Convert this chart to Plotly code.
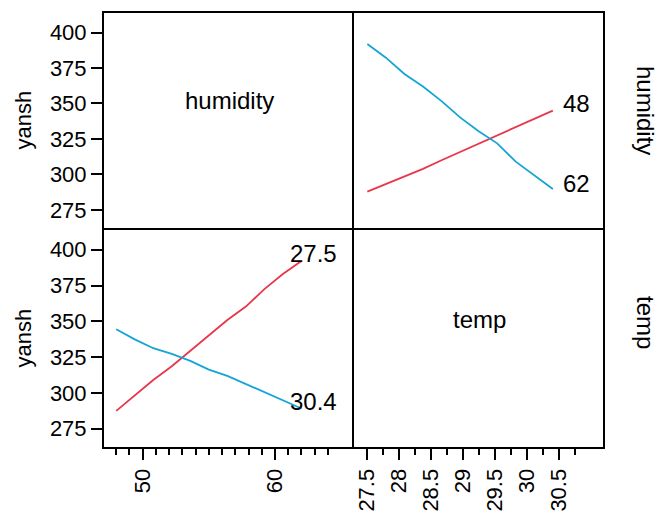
import plotly.graph_objects as go

# ---- data ----
temp_levels = [27.5, 27.79, 28.08, 28.37, 28.66, 28.95, 29.24, 29.53, 29.82, 30.11, 30.4]
hum_levels = [48, 49.4, 50.8, 52.2, 53.6, 55, 56.4, 57.8, 59.2, 60.6, 62]

# yansh vs temp, by humidity level
yansh_hum48 = [287.8, 293.2, 298.6, 303.9, 310.0, 315.9, 321.8, 327.7, 333.4, 339.2, 345.0]
yansh_hum62 = [392.0, 382.3, 370.8, 362.0, 351.7, 340.2, 330.5, 321.9, 309.0, 299.3, 289.7]

# yansh vs humidity, by temp level
yansh_t275 = [287.4, 298.2, 309.0, 318.6, 329.4, 340.1, 350.9, 360.3, 372.5, 383.1, 392.2]
yansh_t304 = [344.5, 337.4, 331.2, 327.3, 322.4, 316.3, 311.9, 306.2, 300.5, 294.6, 289.1]

y_ticks = [275, 300, 325, 350, 375, 400]
hum_major = [50, 60]
hum_minor = list(range(48, 65))
temp_major = [27.5, 28, 28.5, 29, 29.5, 30, 30.5]
temp_minor = [27.5 + 0.25 * i for i in range(14)]

RED = "#E8364B"
BLUE = "#14A5D6"
FONT = "Liberation Sans, Arial, sans-serif"
TICKFS = 22
LBLFS = 24
TW = 1.6

W, H = 659, 513
SX0, SX1, SXM = 103, 604, 353
SY0, SY1, SYM = 12, 448, 229
L, T = SX0, SY0
R, B = W - SX1, H - SY1
pw, ph = W - L - R, H - T - B
xsplit = (SXM - SX0) / (SX1 - SX0)
ysplit = (SY1 - SYM) / (SY1 - SY0)

YR = [261.5, 414.5]
HR = [47.0, 65.9]
TR = [27.276, 31.2]

fig = go.Figure()

fig.add_trace(go.Scatter(x=temp_levels, y=yansh_hum48, mode="lines",
                         line=dict(color=RED, width=1.8), xaxis="x4", yaxis="y4", showlegend=False))
fig.add_trace(go.Scatter(x=temp_levels, y=yansh_hum62, mode="lines",
                         line=dict(color=BLUE, width=1.8), xaxis="x4", yaxis="y4", showlegend=False))
fig.add_trace(go.Scatter(x=hum_levels, y=yansh_t275, mode="lines",
                         line=dict(color=RED, width=1.8), xaxis="x", yaxis="y", showlegend=False))
fig.add_trace(go.Scatter(x=hum_levels, y=yansh_t304, mode="lines",
                         line=dict(color=BLUE, width=1.8), xaxis="x", yaxis="y", showlegend=False))

base = dict(showline=False, showgrid=False, zeroline=False, automargin=False)
noticks = dict(showticklabels=False, ticks="")
tickfont = dict(family=FONT, size=TICKFS, color="black")

fig.update_layout(
    width=W, height=H,
    margin=dict(l=L, r=R, t=T, b=B, autoexpand=False),
    paper_bgcolor="white", plot_bgcolor="white",
    font=dict(family=FONT, color="black"),
    xaxis=dict(domain=[0, xsplit], range=HR, anchor="y", **base,
               tickmode="array", tickvals=hum_major, ticks="outside", ticklen=11,
               tickwidth=TW, tickcolor="black", tickangle=-90, tickfont=tickfont,
               minor=dict(tickmode="array", tickvals=hum_minor, ticks="outside",
                          ticklen=6, tickwidth=TW, tickcolor="black")),
    yaxis=dict(domain=[0, ysplit], range=YR, anchor="x", **base,
               tickmode="array", tickvals=y_ticks, ticks="outside", ticklen=11,
               tickwidth=TW, tickcolor="black", tickfont=tickfont),
    xaxis2=dict(domain=[xsplit, 1], range=TR, anchor="y2", **base,
                tickmode="array", tickvals=temp_major, ticks="outside", ticklen=11,
                tickwidth=TW, tickcolor="black", tickangle=-90, tickfont=tickfont,
                minor=dict(tickmode="array", tickvals=temp_minor, ticks="outside",
                           ticklen=6, tickwidth=TW, tickcolor="black")),
    yaxis2=dict(domain=[0, ysplit], range=YR, anchor="x2", **base, **noticks),
    xaxis3=dict(domain=[0, xsplit], range=HR, anchor="y3", **base, **noticks),
    yaxis3=dict(domain=[ysplit, 1], range=YR, anchor="x3", **base,
                tickmode="array", tickvals=y_ticks, ticks="outside", ticklen=11,
                tickwidth=TW, tickcolor="black", tickfont=tickfont),
    xaxis4=dict(domain=[xsplit, 1], range=TR, anchor="y4", **base, **noticks),
    yaxis4=dict(domain=[ysplit, 1], range=YR, anchor="x4", **base, **noticks),
)

shapes = [
    dict(type="rect", xref="paper", yref="paper", x0=0, x1=1, y0=0, y1=1,
         line=dict(color="black", width=2)),
    dict(type="line", xref="paper", yref="paper", x0=xsplit, x1=xsplit, y0=0, y1=1,
         line=dict(color="black", width=2)),
    dict(type="line", xref="paper", yref="paper", x0=0, x1=1, y0=ysplit, y1=ysplit,
         line=dict(color="black", width=2)),
]
fig.update_layout(shapes=shapes)

def f(size):
    return dict(family=FONT, size=size, color="black")

ann = []
ann.append(dict(text="humidity", x=56.55, y=352, xref="x3", yref="y3", showarrow=False,
                xanchor="center", yanchor="middle", font=f(LBLFS)))
ann.append(dict(text="temp", x=29.26, y=351, xref="x2", yref="y2", showarrow=False,
                xanchor="center", yanchor="middle", font=f(LBLFS)))
ann.append(dict(text="48", x=30.77, y=yansh_hum48[-1], xref="x4", yref="y4", showarrow=False,
                xanchor="center", yanchor="middle", yshift=7, font=f(LBLFS)))
ann.append(dict(text="62", x=30.77, y=yansh_hum62[-1], xref="x4", yref="y4", showarrow=False,
                xanchor="center", yanchor="middle", yshift=6, font=f(LBLFS)))
ann.append(dict(text="27.5", x=62.9, y=yansh_t275[-1], xref="x", yref="y", showarrow=False,
                xanchor="center", yanchor="middle", yshift=7, font=f(LBLFS)))
ann.append(dict(text="30.4", x=62.9, y=yansh_t304[-1], xref="x", yref="y", showarrow=False,
                xanchor="center", yanchor="middle", yshift=7, font=f(LBLFS)))

pix = [
    ("yansh", 23, 120.5, -90, TICKFS),
    ("yansh", 23, 338.5, -90, TICKFS),
    ("humidity", 646, 110, 90, LBLFS),
    ("temp", 646, 322, 90, LBLFS),
]
for text, sx, sy, ang, fs in pix:
    fx = (sx - L) / pw
    fy = (H - B - sy) / ph
    ann.append(dict(text=text, x=fx, y=fy, xref="paper", yref="paper", showarrow=False,
                    xanchor="center", yanchor="middle", textangle=ang, font=f(fs)))
fig.update_layout(annotations=ann)

fig.write_html("out.html", config={"displayModeBar": False},
               post_script="document.body.style.margin='0px';document.body.style.overflow='hidden';")
